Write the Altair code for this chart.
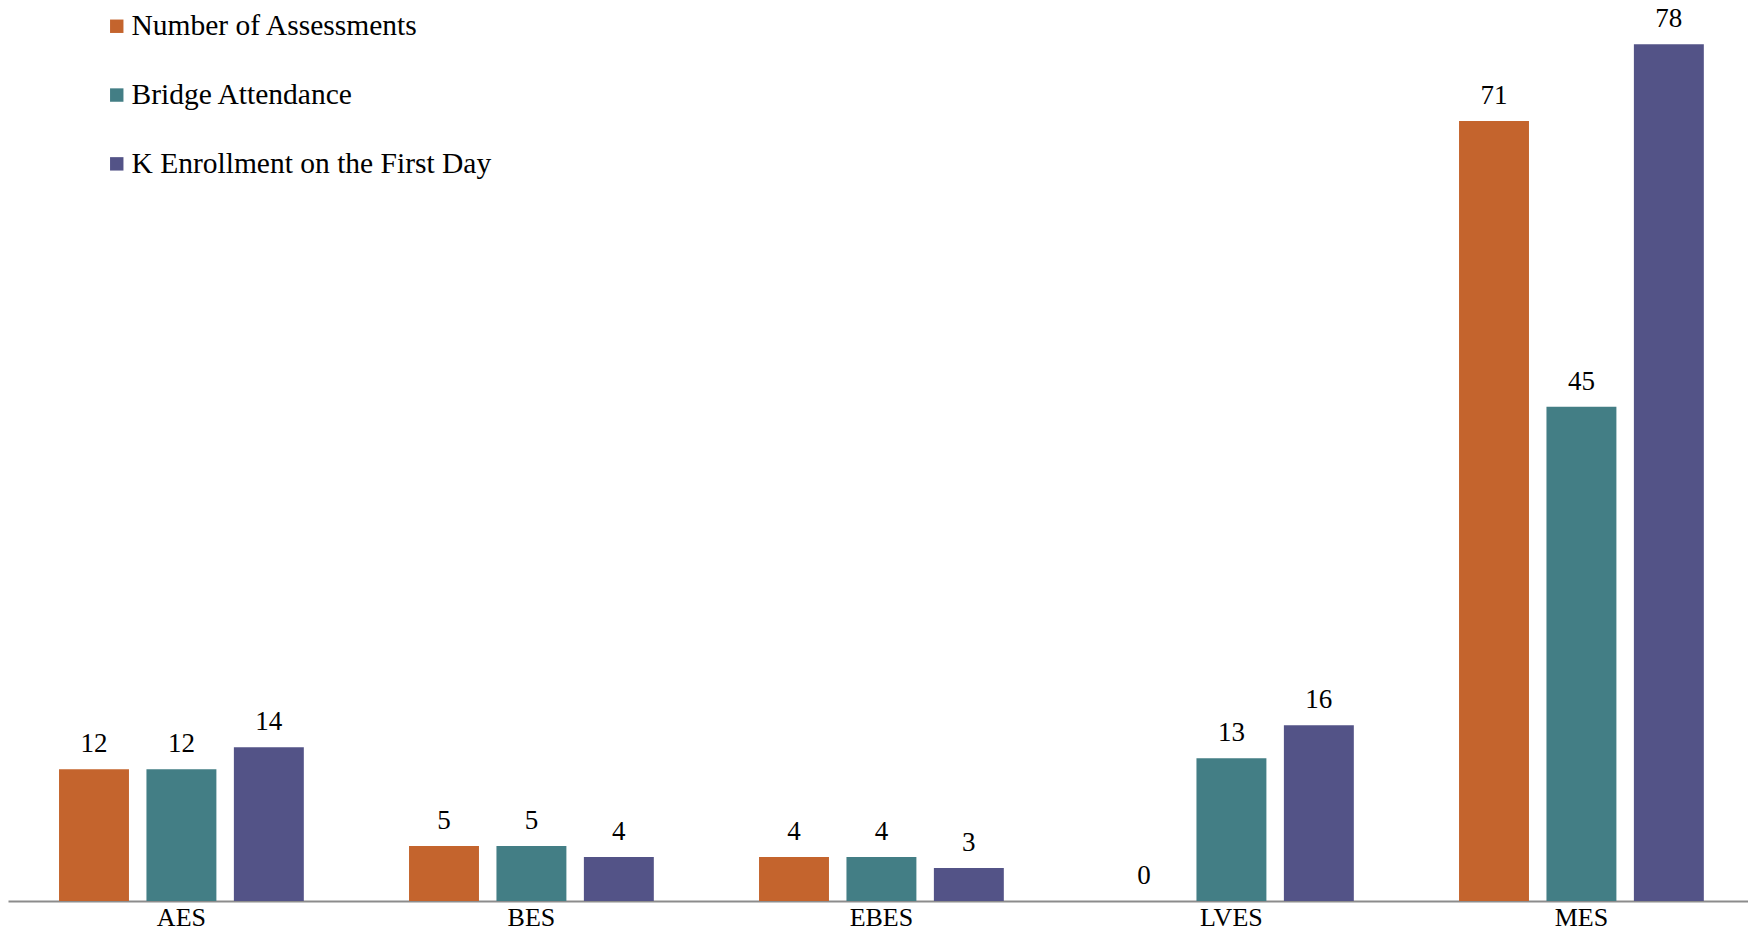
import altair as alt
import pandas as pd

schools = ["AES", "BES", "EBES", "LVES", "MES"]
series = ["Number of Assessments", "Bridge Attendance", "K Enrollment on the First Day"]
assessments = [12, 5, 4, 0, 71]
bridge = [12, 5, 4, 13, 45]
enrollment = [14, 4, 3, 16, 78]
colors = ["#C4642D", "#437E85", "#535387"]

rows = []
for vals, s in zip([assessments, bridge, enrollment], series):
    for sc, v in zip(schools, vals):
        rows.append({"School": sc, "Series": s, "Value": v})
df = pd.DataFrame(rows)

FONT = "Liberation Serif"

x = alt.X("School:N", sort=schools, title=None,
          scale=alt.Scale(paddingInner=0.3006, paddingOuter=0.136, align=0.536, round=False),
          axis=alt.Axis(labelAngle=0, labelFont=FONT, labelFontSize=26, labelColor="black",
                        labelPadding=3, ticks=False, domainColor="#8c8c8c", domainWidth=2))
xo = alt.XOffset("Series:N", sort=series,
                 scale=alt.Scale(paddingInner=0.2, paddingOuter=0, round=False))
y = alt.Y("Value:Q", scale=alt.Scale(domain=[0, 80.2], nice=False), axis=None)

bars = alt.Chart(df).mark_bar().encode(
    x=x, xOffset=xo, y=y,
    color=alt.Color("Series:N", sort=series,
                    scale=alt.Scale(domain=series, range=colors),
                    legend=alt.Legend(title=None, orient="none", legendX=94, legendY=-8.5,
                                      direction="vertical", symbolType="square",
                                      symbolSize=180, symbolStrokeWidth=0,
                                      labelFont=FONT, labelFontSize=29.5, labelColor="black",
                                      labelOffset=0, rowPadding=37.8, labelLimit=600)),
)
labels = alt.Chart(df).mark_text(font=FONT, fontSize=27, color="black",
                                 baseline="alphabetic", dy=-17).encode(
    x=x, xOffset=xo, y=y, text="Value:Q"
)

chart = alt.layer(bars, labels).properties(
    width=1740, height=881,
    autosize=alt.AutoSizeParams(type="none"),
    padding={"left": 0, "top": 12, "right": 0, "bottom": 33},
).configure_view(stroke=None)

chart.save("out.html", embed_options={"renderer": "svg", "actions": False})
